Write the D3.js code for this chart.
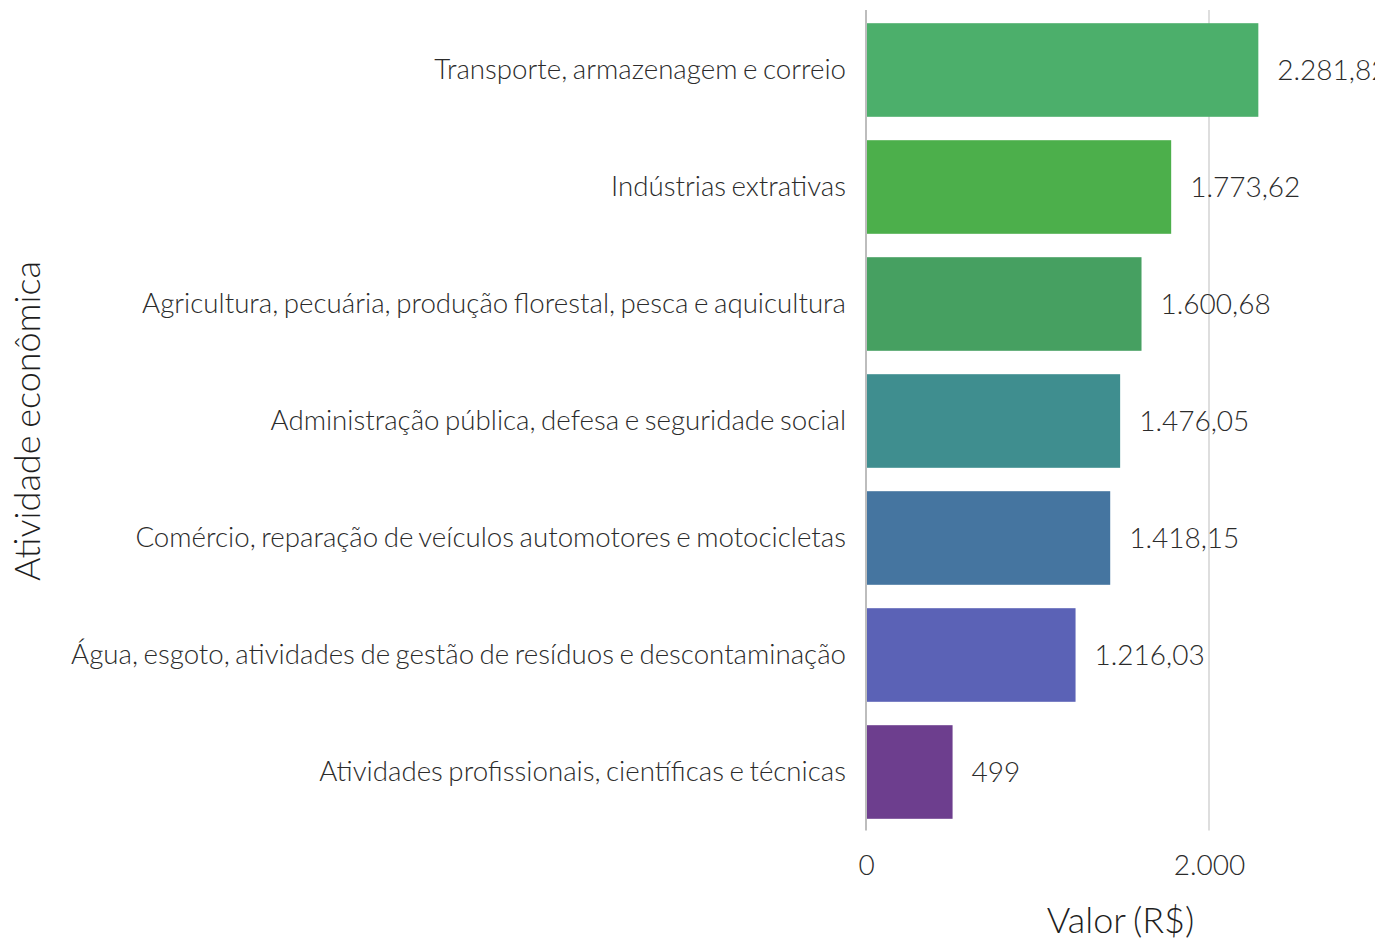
<!DOCTYPE html>
<html>
<head>
<meta charset="utf-8">
<script src="https://cdn.jsdelivr.net/npm/d3@7"></script>
<style>
  html, body { margin: 0; padding: 0; background: #fff; overflow: hidden; }
  text { font-family: Lato, "Open Sans", sans-serif; font-weight: 300; word-spacing: -2px; }
</style>
</head>
<body>
<div id="g"></div>
<script>
// data
var categories = [
    "Transporte, armazenagem e correio",
    "Indústrias extrativas",
    "Agricultura, pecuária, produção florestal, pesca e aquicultura",
    "Administração pública, defesa e seguridade social",
    "Comércio, reparação de veículos automotores e motocicletas",
    "Água, esgoto, atividades de gestão de resíduos e descontaminação",
    "Atividades profissionais, científicas e técnicas"
];
var values = [2281.82, 1773.62, 1600.68, 1476.05, 1418.15, 1216.03, 499];
var barColors = ["#4caf6b", "#4caf4b", "#46a061", "#3f8e8f", "#4575a0", "#5b62b6", "#6d3e8e"];
var xTicks = [0, 2000];

var WIDTH = 1393, HEIGHT = 942;
var PLOT_LEFT = 866, PLOT_RIGHT = 1375, PLOT_TOP = 11.5, PLOT_BOTTOM = 830.5;

var br = d3.formatLocale({decimal: ",", thousands: ".", grouping: [3], currency: ["R$", ""]});
var fmt = function(v) {
    return Number.isInteger(v) ? br.format(",d")(v) : br.format(",.2f")(v);
};

var svg = d3.select("#g").append("svg")
    .attr("width", WIDTH)
    .attr("height", HEIGHT);

// panel clip, the labels get cut at the panel edge
svg.append("defs").append("clipPath")
    .attr("id", "panel")
    .append("rect")
    .attr("x", PLOT_LEFT)
    .attr("y", 0)
    .attr("width", PLOT_RIGHT - PLOT_LEFT)
    .attr("height", PLOT_BOTTOM + 10);

var x = d3.scaleLinear()
    .domain([0, 2000])
    .range([PLOT_LEFT, 1209]);

var y = d3.scaleBand()
    .domain(categories)
    .range([PLOT_TOP, PLOT_BOTTOM])
    .paddingInner(0.2)
    .paddingOuter(0.1);

/* grid lines */
svg.selectAll(".grid")
    .data(xTicks)
    .enter().append("line")
    .attr("class", "grid")
    .attr("x1", function(d) { return x(d); })
    .attr("x2", function(d) { return x(d); })
    .attr("y1", 10)
    .attr("y2", PLOT_BOTTOM)
    .attr("stroke", function(d) { return d === 0 ? "#bdbdbd" : "#dedede"; })
    .attr("stroke-width", 2);

/* bars */
var rows = categories.map(function(c, i) { return {cat: c, value: values[i], color: barColors[i]}; });

svg.selectAll(".bar")
    .data(rows)
    .enter().append("rect")
    .attr("class", "bar")
    .attr("x", x(0) + 1)
    .attr("y", function(d) { return y(d.cat); })
    .attr("width", function(d) { return x(d.value) - x(0); })
    .attr("height", y.bandwidth())
    .attr("fill", function(d) { return d.color; });

/* value labels */
svg.append("g")
    .attr("clip-path", "url(#panel)")
    .selectAll(".val")
    .data(rows)
    .enter().append("text")
    .attr("class", "val")
    .attr("x", function(d) { return x(d.value) + 20; })
    .attr("y", function(d) { return y(d.cat) + y.bandwidth() / 2; })
    .attr("dy", "0.35em")
    .attr("font-size", 28)
    .attr("fill", "#2b2b2b")
    .text(function(d) { return fmt(d.value); });

/* y axis (category labels) */
var yAxis = svg.append("g")
    .attr("transform", "translate(" + (PLOT_LEFT - 20) + ",0)")
    .call(d3.axisLeft(y).tickSize(0).tickPadding(0));
yAxis.select(".domain").remove();
yAxis.selectAll("text")
    .attr("font-size", 27.7)
    .attr("font-family", null)
    .attr("fill", "#2b2b2b");

/* x axis */
var xAxis = svg.append("g")
    .attr("transform", "translate(0," + PLOT_BOTTOM + ")")
    .call(d3.axisBottom(x).tickValues(xTicks).tickSize(0).tickPadding(25)
        .tickFormat(function(d) { return br.format(",d")(d); }));
xAxis.select(".domain").remove();
xAxis.selectAll("text")
    .attr("font-size", 28)
    .attr("font-family", null)
    .attr("fill", "#2b2b2b");

/* axis titles */
svg.append("text")
    .attr("x", (PLOT_LEFT + PLOT_RIGHT) / 2)
    .attr("y", 920)
    .attr("dy", "0.35em")
    .attr("text-anchor", "middle")
    .attr("font-size", 36)
    .attr("fill", "#1e1e1e")
    .text("Valor (R$)");

svg.append("text")
    .attr("transform", "translate(27," + (PLOT_TOP + PLOT_BOTTOM) / 2 + ") rotate(-90)")
    .attr("dy", "0.35em")
    .attr("text-anchor", "middle")
    .attr("font-size", 36)
    .attr("fill", "#1e1e1e")
    .text("Atividade econômica");
</script>
</body>
</html>
